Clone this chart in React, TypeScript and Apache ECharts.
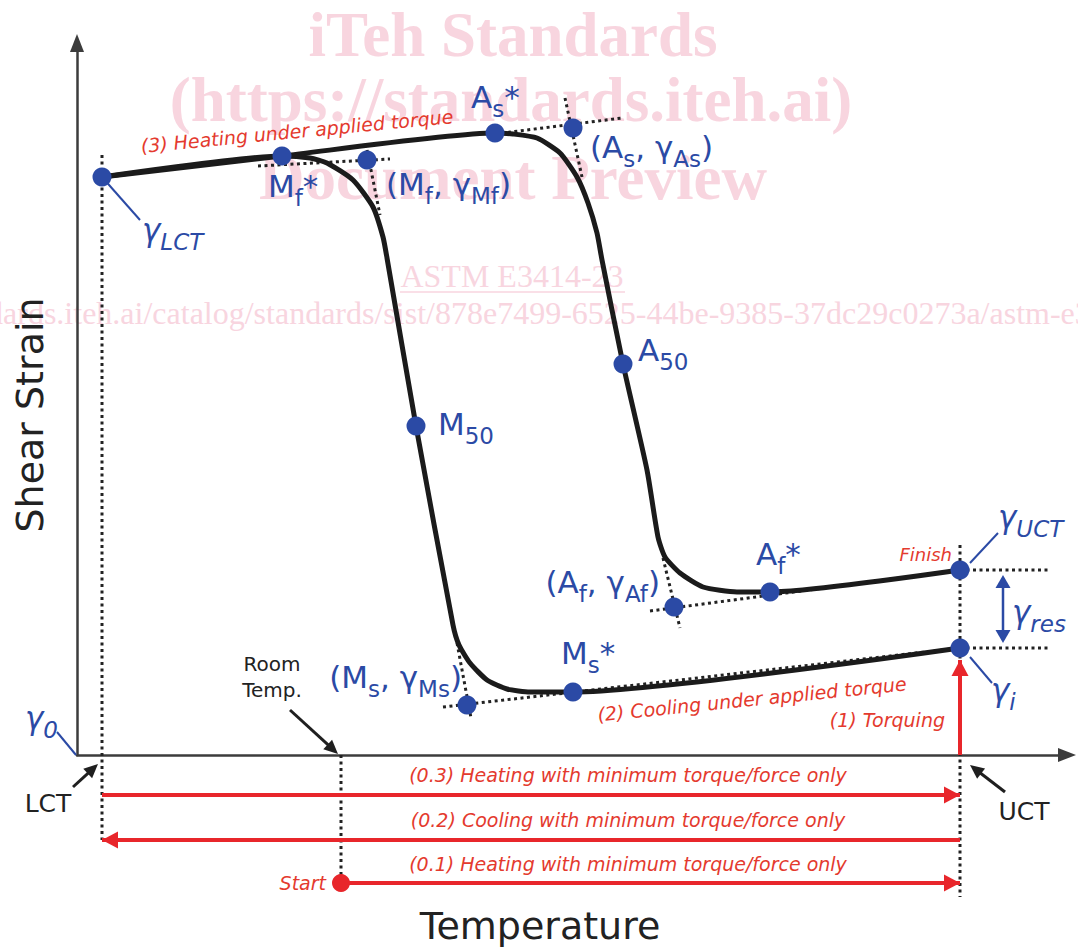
import React, { useEffect, useRef } from "react";
import * as echarts from "echarts";

const FONT = "'DejaVu Sans', Verdana, sans-serif";
const SERIF = "'Liberation Serif', 'DejaVu Serif', 'Times New Roman', serif";
const BLUE = "#2B4AA5";
const RED = "#E8262B";
const RED_TEXT = "#E43A2E";
const INK = "#1b1b1b";
const AXIS = "#3c3c3c";
const PINK = "#F8D5DF";

// Characteristic temperatures (arbitrary temperature units)
const LCT = 2.5;
const ROOM_TEMP = 26.4;
const UCT = 88.3;
const TEMP_MAX = 99;
const STRAIN_MAX = 71.2;

// Heating branch: (3) heating under applied torque, from LCT to UCT
const heatingCurve: [number, number][] = [
  [2.5, 57.8], [20.5, 59.9], [41.8, 62.2], [43.6, 62.1], [46.0, 61.7], [48.3, 60.2],
  [50.0, 57.8], [51.1, 55.2], [52.0, 52.2], [52.5, 49.5], [54.6, 39.1], [57.0, 28.5],
  [58.1, 21.8], [58.8, 19.8], [60.3, 18.2], [62.6, 16.8], [66.0, 16.3], [69.3, 16.3],
  [88.3, 18.5],
];

// Cooling branch: (2) cooling under applied torque, from UCT to LCT
const coolingCurve: [number, number][] = [
  [88.3, 10.7], [49.6, 6.3], [45.3, 6.3], [43.0, 6.6], [41.0, 7.5], [39.3, 9.2],
  [38.2, 11.0], [37.6, 13.0], [33.9, 32.9], [31.0, 49.7], [30.6, 51.8], [29.6, 54.8],
  [27.6, 57.5], [25.0, 59.2], [23.3, 59.7], [20.5, 59.9], [2.5, 57.8],
];

// Characteristic points
const pointNames = ["γLCT", "Mf*", "(Mf, γMf)", "As*", "(As, γAs)", "A50", "M50", "(Af, γAf)", "Af*", "γUCT", "γi", "Ms*", "(Ms, γMs)"];
const pointTemps = [2.5, 20.5, 29.0, 41.8, 49.6, 54.6, 33.9, 59.7, 69.3, 88.3, 88.3, 49.6, 39.0];
const pointStrains = [57.8, 59.9, 59.5, 62.2, 62.7, 39.1, 32.9, 14.8, 16.3, 18.5, 10.7, 6.3, 5.0];
const pointLabels = [
  "{gi|γ}{si|LCT}",
  "{m|M}{s|f}{m|*}",
  "{m|(M}{s|f}{m|, γ}{s|Mf}{m|)}",
  "{m|A}{s|s}{m|*}",
  "{m|(A}{s|s}{m|, γ}{s|As}{m|)}",
  "{m|A}{s|50}",
  "{m|M}{s|50}",
  "{m|(A}{s|f}{m|, γ}{s|Af}{m|)}",
  "{m|A}{s|f}{m|*}",
  "{gi|γ}{si|UCT}",
  "{gi|γ}{si|i}",
  "{m|M}{s|s}{m|*}",
  "{m|(M}{s|s}{m|, γ}{s|Ms}{m|)}",
];

// Dotted construction lines (tangents and reference levels)
const tangentLines: [number, number][][] = [
  [[18.1, 58.9], [31.3, 59.6]],
  [[29.0, 60.5], [30.3, 54.0]],
  [[41.8, 62.1], [54.5, 63.7]],
  [[48.8, 65.7], [50.5, 57.8]],
  [[57.3, 14.4], [88.3, 18.5]],
  [[58.6, 19.7], [60.3, 12.7]],
  [[36.6, 4.8], [88.3, 10.7]],
  [[38.0, 11.2], [39.4, 3.7]],
  [[88.3, 18.5], [97.1, 18.5]],
  [[88.3, 10.7], [97.1, 10.7]],
  [[LCT, 60.0], [LCT, -8.5]],
  [[ROOM_TEMP, 0], [ROOM_TEMP, -12.8]],
  [[UCT, 21.0], [UCT, -14.2]],
];

// Pre-conditioning steps with minimum torque (rows below the axis)
const phaseNames = ["(0.3) Heating with minimum torque/force only", "(0.2) Cooling with minimum torque/force only", "(0.1) Heating with minimum torque/force only"];
const phaseRows = [-4.0, -8.5, -12.8];
const phaseFrom = [LCT, UCT, ROOM_TEMP];
const phaseTo = [UCT, LCT, UCT];
// (1) Torquing at UCT
const torqueFrom = 0;
const torqueTo = 9.5;

const labelPlacement: Record<string, [number, number, string]> = {
  "γLCT": [40, 53, "left"],
  "Mf*": [-14, 30, "left"],
  "(Mf, γMf)": [19, 24, "left"],
  "As*": [-24, -36, "left"],
  "(As, γAs)": [17, 19, "left"],
  "A50": [15, -14, "left"],
  "M50": [22, -2, "left"],
  "(Af, γAf)": [-14, -25, "right"],
  "Af*": [-14, -38, "left"],
  "γUCT": [38, -53, "left"],
  "γi": [31, 42, "left"],
  "Ms*": [-12, -39, "left"],
  "(Ms, γMs)": [-5, -28, "right"],
};

const SUB_PAD = 24;
const rich = {
  m: { fontFamily: FONT, fontSize: 31, lineHeight: 34, color: BLUE, fill: BLUE },
  s: { fontFamily: FONT, fontSize: 23, lineHeight: 10, color: BLUE, fill: BLUE, padding: [SUB_PAD, 0, 0, 0] },
  gi: { fontFamily: FONT, fontSize: 31, lineHeight: 34, color: BLUE, fill: BLUE, fontStyle: "italic" },
  si: { fontFamily: FONT, fontSize: 23, lineHeight: 10, color: BLUE, fill: BLUE, fontStyle: "italic", padding: [SUB_PAD, 0, 0, 0] },
};

function arrow(x1: number, y1: number, x2: number, y2: number, color: string, lw: number, hl: number, hw: number, z = 10) {
  const dx = x2 - x1, dy = y2 - y1;
  const L = Math.hypot(dx, dy);
  const ux = dx / L, uy = dy / L;
  const bx = x2 - ux * hl, by = y2 - uy * hl;
  return [
    { type: "line", silent: true, z, shape: { x1, y1, x2: bx + ux, y2: by + uy }, style: { stroke: color, lineWidth: lw } },
    { type: "polygon", silent: true, z, shape: { points: [[x2, y2], [bx - uy * hw / 2, by + ux * hw / 2], [bx + uy * hw / 2, by - ux * hw / 2]] }, style: { fill: color } },
  ];
}

function txt(x: number, y: number, text: string, o: any = {}) {
  const { rotation, z, ...style } = o;
  return {
    type: "text", silent: true, x, y, rotation: rotation || 0, z: z ?? 10,
    style: { text, fontFamily: FONT, fontSize: 19, fill: INK, align: "center", verticalAlign: "middle", ...style },
  };
}

function buildOption() {
  const series: any[] = [];
  tangentLines.forEach((seg) => {
    series.push({
      type: "line", data: seg, showSymbol: false, clip: false, silent: true, z: 2,
      lineStyle: { color: "#222", width: 3, type: [3, 3.5] },
    });
  });
  series.push({
    type: "line", name: "Heating", data: heatingCurve, showSymbol: false, smooth: 0.2, clip: false, silent: true, z: 3,
    lineStyle: { color: INK, width: 5 },
  });
  series.push({
    type: "line", name: "Cooling", data: coolingCurve, showSymbol: false, smooth: 0.2, clip: false, silent: true, z: 3,
    lineStyle: { color: INK, width: 5 },
  });
  phaseRows.forEach((row, i) => {
    series.push({
      type: "line", name: phaseNames[i], data: [[phaseFrom[i], row], [phaseTo[i], row]], showSymbol: false, clip: false, silent: true, z: 3,
      lineStyle: { color: RED, width: 4 },
    });
  });
  series.push({
    type: "line", name: "(1) Torquing", data: [[UCT, torqueFrom], [UCT, torqueTo]], showSymbol: false, clip: false, silent: true, z: 3,
    lineStyle: { color: RED, width: 4 },
  });
  series.push({
    type: "scatter", name: "points", symbol: "circle", symbolSize: 19, clip: false, silent: true, z: 5,
    itemStyle: { color: BLUE, opacity: 1 },
    label: { show: true, rich, color: BLUE },
    data: pointNames.map((n, i) => {
      const [dx, dy, align] = labelPlacement[n];
      return {
        name: n, value: [pointTemps[i], pointStrains[i]],
        label: { formatter: pointLabels[i], position: ["50%", "50%"], offset: [dx, dy], align, verticalAlign: "middle" },
      };
    }),
  });
  series.push({
    type: "scatter", name: "Start", symbol: "circle", symbolSize: 18, clip: false, silent: true, z: 5,
    itemStyle: { color: RED, opacity: 1 },
    label: { show: true, position: "left", distance: 6, formatter: "Start", color: RED_TEXT, fontStyle: "italic", fontSize: 19, fontFamily: FONT },
    data: [[ROOM_TEMP, phaseRows[2]]],
  });

  const axisCommon = {
    type: "value", axisTick: { show: false }, axisLabel: { show: false }, splitLine: { show: false },
  };
  return {
    animation: false,
    backgroundColor: "#ffffff",
    grid: { left: 77, top: 43, width: 990, height: 712, containLabel: false },
    xAxis: {
      ...axisCommon, min: 0, max: TEMP_MAX,
      axisLine: { show: true, onZero: true, symbol: ["none", "triangle"], symbolSize: [14, 18], lineStyle: { color: AXIS, width: 2.5 } },
    },
    yAxis: {
      ...axisCommon, min: 0, max: STRAIN_MAX,
      axisLine: { show: true, onZero: true, symbol: ["none", "triangle"], symbolSize: [14, 18], lineStyle: { color: AXIS, width: 2.5 } },
    },
    series,
  };
}

function buildGraphics(px: (p: [number, number]) => number[]) {
  const els: any[] = [];
  // watermark
  const wm = { fill: PINK, fontFamily: SERIF, z: 0 };
  els.push(txt(513, 35, "iTeh Standards", { ...wm, fontSize: 63, fontWeight: "bold" }));
  els.push(txt(511, 100, "(https://standards.iteh.ai)", { ...wm, fontSize: 63, fontWeight: "bold" }));
  els.push(txt(513, 178, "Document Preview", { ...wm, fontSize: 63, fontWeight: "bold" }));
  els.push(txt(512, 276, "ASTM E3414-23", { ...wm, fontSize: 32 }));
  els.push({ type: "line", silent: true, z: 0, shape: { x1: 400, y1: 292, x2: 625, y2: 292 }, style: { stroke: PINK, lineWidth: 1.5 } });
  els.push(txt(514, 313, "https://standards.iteh.ai/catalog/standards/sist/878e7499-6525-44be-9385-37dc29c0273a/astm-e3414-23", { ...wm, fontSize: 32 }));

  // axis titles
  els.push(txt(30, 415, "Shear Strain", { fontSize: 38, fill: "#222", rotation: Math.PI / 2 }));
  els.push(txt(540, 926, "Temperature", { fontSize: 38, fill: "#222" }));

  // red phase texts
  const redT = { fill: RED_TEXT, fontStyle: "italic", fontSize: 19 };
  const rowTextY = [775, 820, 864];
  phaseNames.forEach((n, i) => els.push(txt(628, rowTextY[i], n, redT)));
  els.push(txt(752, 699, "(2) Cooling under applied torque", { ...redT, rotation: 0.1 }));
  els.push(txt(297, 131, "(3) Heating under applied torque", { ...redT, rotation: 0.095 }));

  // red arrowheads
  phaseRows.forEach((row, i) => {
    const a = px([phaseFrom[i], row]);
    const b = px([phaseTo[i], row]);
    const dir = Math.sign(b[0] - a[0]);
    els.push(...arrow(b[0] - dir * 30, b[1], b[0], b[1], RED, 4, 16, 17, 6));
  });
  const tq = px([UCT, torqueTo]);
  els.push(...arrow(tq[0], tq[1] + 30, tq[0], tq[1], RED, 4, 16, 17, 6));
  els.push(txt(tq[0] - 15, 720, "(1) Torquing", { ...redT, align: "right" }));

  const gU = px([UCT, pointStrains[9]]);
  const gI = px([UCT, pointStrains[10]]);
  els.push(txt(gU[0] - 8, gU[1] - 16, "Finish", { ...redT, fontSize: 18, align: "right" }));

  // black annotations
  const o = px([0, 0]);
  const lct = px([LCT, 0]);
  const rt = px([ROOM_TEMP, 0]);
  const uct = px([UCT, 0]);
  els.push(...arrow(lct[0] - 29, lct[1] + 32, lct[0] - 4, lct[1] + 9, "#1f1f1f", 3, 14, 13));
  els.push(...arrow(rt[0] - 51, rt[1] - 45, rt[0] - 3, rt[1] - 1, "#1f1f1f", 3, 14, 13));
  els.push(...arrow(uct[0] + 45, uct[1] + 37, uct[0] + 10, uct[1] + 10, "#1f1f1f", 3, 14, 13));
  els.push(txt(lct[0] - 54, lct[1] + 48, "LCT", { fontSize: 25, fill: "#222" }));
  els.push(txt(uct[0] + 64, uct[1] + 56, "UCT", { fontSize: 25, fill: "#222" }));
  els.push(txt(rt[0] - 69, rt[1] - 78, "Room\nTemp.", { fontSize: 20, fill: "#222", lineHeight: 26 }));

  // blue leaders
  const leader = (x1: number, y1: number, x2: number, y2: number) => ({
    type: "line", silent: true, z: 4, shape: { x1, y1, x2, y2 }, style: { stroke: BLUE, lineWidth: 2 },
  });
  const gL = px([pointTemps[0], pointStrains[0]]);
  els.push(leader(gL[0], gL[1], gL[0] + 38, gL[1] + 43));
  els.push(leader(gU[0] + 10, gU[1] - 7, gU[0] + 38, gU[1] - 37));
  els.push(leader(gI[0] + 10, gI[1] + 9, gI[0] + 32, gI[1] + 35));
  els.push(leader(o[0] - 20, o[1] - 23, o[0] - 1, o[1]));
  els.push({
    type: "text", silent: true, z: 10, x: o[0] - 52, y: o[1] - 37,
    style: { text: "{gi|γ}{si|0}", rich, fill: BLUE, align: "left", verticalAlign: "middle" },
  });

  // γres double arrow
  const rx = gU[0] + 43;
  const mid = (gU[1] + gI[1]) / 2;
  els.push(...arrow(rx, mid, rx, gU[1] + 5, BLUE, 2.5, 13, 15));
  els.push(...arrow(rx, mid, rx, gI[1] - 5, BLUE, 2.5, 13, 15));
  els.push({
    type: "text", silent: true, z: 10, x: rx + 9, y: mid + 3,
    style: { text: "{gi|γ}{si|res}", rich, fill: BLUE, align: "left", verticalAlign: "middle" },
  });
  return els;
}

export default function App() {
  const ref = useRef<HTMLDivElement>(null);
  useEffect(() => {
    if (!ref.current) return;
    const chart = echarts.init(ref.current, null, { renderer: "svg" });
    chart.setOption(buildOption() as any);
    const px = (p: [number, number]) => chart.convertToPixel({ gridIndex: 0 }, p) as number[];
    chart.setOption({ graphic: { elements: buildGraphics(px) } } as any);
    return () => chart.dispose();
  }, []);
  return <div ref={ref} style={{ position: "absolute", left: 0, top: 0, width: 1078, height: 951 }} />;
}
